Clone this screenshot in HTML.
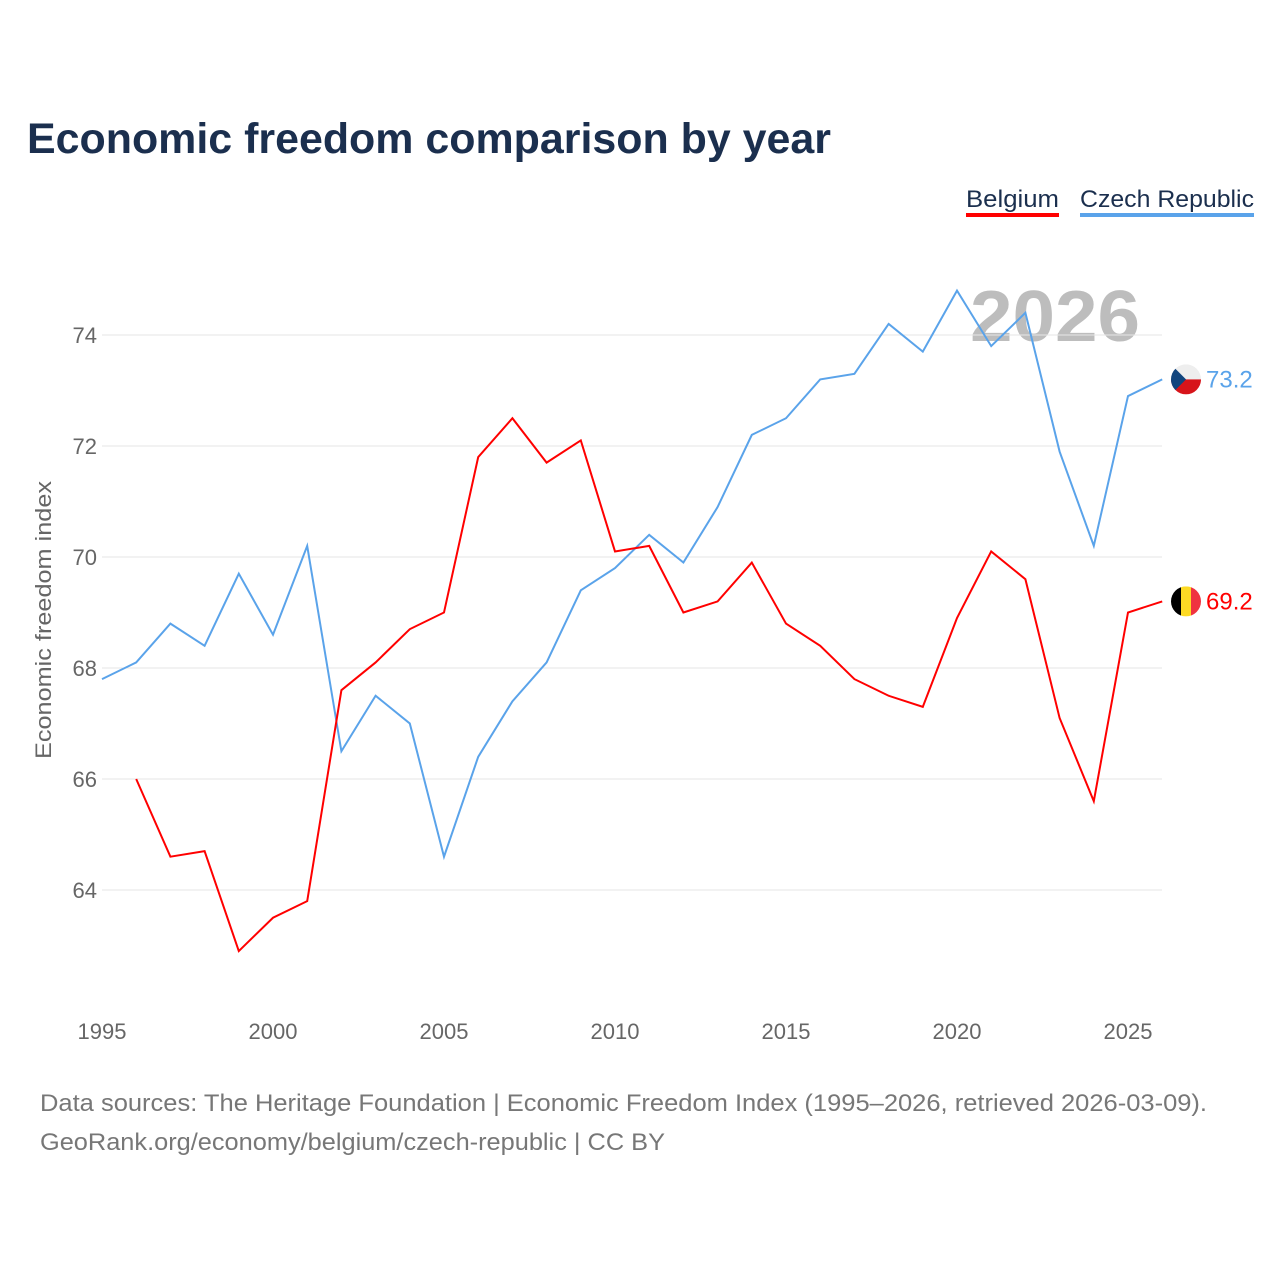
<!DOCTYPE html>
<html><head><meta charset="utf-8">
<style>
body{margin:0;background:#fff;width:1280px;height:1280px;overflow:hidden;font-family:"Liberation Sans",sans-serif}
svg text{font-family:"Liberation Sans",sans-serif}
</style></head>
<body>
<svg width="1280" height="1280">
<text x="27" y="153" font-size="43" font-weight="bold" fill="#1b2f4e" textLength="804" lengthAdjust="spacingAndGlyphs">Economic freedom comparison by year</text>
<g><text x="966" y="207" font-size="24" fill="#1b2f4e" textLength="93" lengthAdjust="spacingAndGlyphs">Belgium</text><rect x="966" y="213" width="93" height="4" fill="#ff0000"/></g>
<g><text x="1080" y="207" font-size="24" fill="#1b2f4e" textLength="174" lengthAdjust="spacingAndGlyphs">Czech Republic</text><rect x="1080" y="213" width="174" height="4" fill="#5aa3ea"/></g>
<text x="970" y="341" font-size="72" font-weight="bold" fill="#bdbdbd" textLength="170" lengthAdjust="spacingAndGlyphs">2026</text>
<g id="grid"></g><g id="yt"></g><g id="xt"></g><g id="lines"></g>
<text transform="translate(51,620) rotate(-90)" font-size="22" fill="#666" text-anchor="middle" textLength="278" lengthAdjust="spacingAndGlyphs">Economic freedom index</text>
<text x="40" y="1111" font-size="24" fill="#777" textLength="1167" lengthAdjust="spacingAndGlyphs">Data sources: The Heritage Foundation | Economic Freedom Index (1995–2026, retrieved 2026-03-09).</text>
<text x="40" y="1150" font-size="24" fill="#777" textLength="625" lengthAdjust="spacingAndGlyphs">GeoRank.org/economy/belgium/czech-republic | CC BY</text>
</svg>
<script>
const years=[1995,1996,1997,1998,1999,2000,2001,2002,2003,2004,2005,2006,2007,2008,2009,2010,2011,2012,2013,2014,2015,2016,2017,2018,2019,2020,2021,2022,2023,2024,2025,2026];
const czech=[67.8,68.1,68.8,68.4,69.7,68.6,70.2,66.5,67.5,67.0,64.6,66.4,67.4,68.1,69.4,69.8,70.4,69.9,70.9,72.2,72.5,73.2,73.3,74.2,73.7,74.8,73.8,74.4,71.9,70.2,72.9,73.2];
const belgium=[null,66.0,64.6,64.7,62.9,63.5,63.8,67.6,68.1,68.7,69.0,71.8,72.5,71.7,72.1,70.1,70.2,69.0,69.2,69.9,68.8,68.4,67.8,67.5,67.3,68.9,70.1,69.6,67.1,65.6,69.0,69.2];
const yTicks=[64,66,68,70,72,74];
const xTicks=[1995,2000,2005,2010,2015,2020,2025];
const X=y=>102+(y-1995)*34.2, Y=v=>335+(74-v)*55.5;
const NS="http://www.w3.org/2000/svg";
function mk(t,a,p){const e=document.createElementNS(NS,t);for(const k in a)e.setAttribute(k,a[k]);p.appendChild(e);return e;}
const g=document.getElementById('grid'),yt=document.getElementById('yt'),xt=document.getElementById('xt'),L=document.getElementById('lines');
yTicks.forEach(v=>{const l=mk('line',{x1:102,x2:1162,y1:Y(v),y2:Y(v),stroke:'#e6e6e6','stroke-width':1},g);


const t=mk('text',{x:97,y:Y(v)+8,'font-size':22,fill:'#666','text-anchor':'end'},yt);t.textContent=v;

});
xTicks.forEach(v=>{const t=mk('text',{x:X(v),y:1039,'font-size':22,fill:'#666','text-anchor':'middle'},xt);t.textContent=v;

});
function line(vals,col,name){let d='';vals.forEach((v,i)=>{if(v==null)return;d+=(d?'L':'M')+X(years[i])+','+Y(v);});
const p=mk('path',{d:d,fill:'none',stroke:col,'stroke-width':2},L);

}
line(czech,'#5aa3ea','czech-republic-line');
line(belgium,'#ff0000','belgium-line');
const cy=Y(czech[czech.length-1]),by=Y(belgium[belgium.length-1]),cx=1186;
const cz=mk('g',{},L);


mk('clipPath',{id:'cc'},cz);mk('circle',{cx:cx,cy:cy,r:15},cz.querySelector('#cc'));
const cg=mk('g',{'clip-path':'url(#cc)'},cz);
mk('rect',{x:cx-15,y:cy-15,width:30,height:15,fill:'#eeeeee'},cg);
mk('rect',{x:cx-15,y:cy,width:30,height:15,fill:'#d7141a'},cg);
mk('polygon',{points:`${cx-15},${cy-15} ${cx},${cy} ${cx-15},${cy+15}`,fill:'#11457e'},cg);
const ct=mk('text',{x:1206,y:cy+8,'font-size':24,fill:'#5aa3ea'},L);ct.textContent=czech[czech.length-1].toFixed(1);


const be=mk('g',{},L);


mk('clipPath',{id:'bc'},be);mk('circle',{cx:cx,cy:by,r:15},be.querySelector('#bc'));
const bg=mk('g',{'clip-path':'url(#bc)'},be);
mk('rect',{x:cx-15,y:by-15,width:10,height:30,fill:'#000'},bg);
mk('rect',{x:cx-5,y:by-15,width:10,height:30,fill:'#fdda24'},bg);
mk('rect',{x:cx+5,y:by-15,width:10,height:30,fill:'#ef3340'},bg);
const bt=mk('text',{x:1206,y:by+8,'font-size':24,fill:'#ff0000'},L);bt.textContent=belgium[belgium.length-1].toFixed(1);


</script>
</body></html>
